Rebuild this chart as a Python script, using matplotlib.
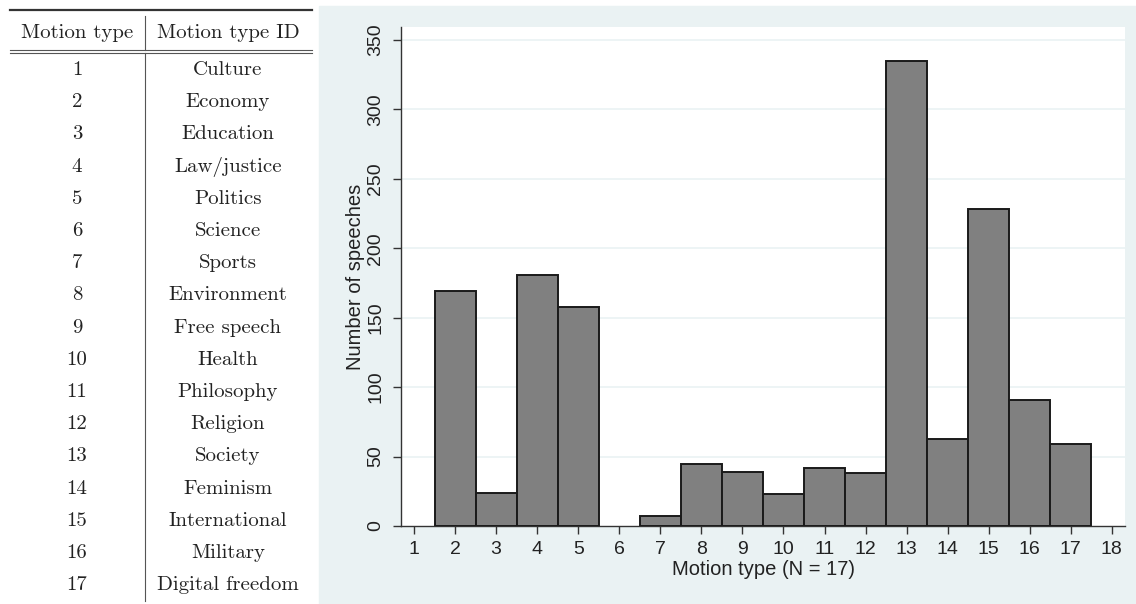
import matplotlib
matplotlib.use("Agg")
import matplotlib.pyplot as plt
from matplotlib.patches import Rectangle

# table contents
motion_ids = list(range(1, 18))
motion_names = [
    "Culture", "Economy", "Education", "Law/justice", "Politics",
    "Science", "Sports", "Environment", "Free speech", "Health",
    "Philosophy", "Religion", "Society", "Feminism", "International",
    "Military", "Digital freedom",
]

# bar chart: number of speeches per motion type
speeches = [0, 169, 24, 181, 158, 0, 7, 45, 39, 23, 42, 38, 335, 63, 228, 91, 59]
y_ticks = [0, 50, 100, 150, 200, 250, 300, 350]
x_ticks = list(range(1, 19))

W, H = 1136, 604
PANEL = "#EAF2F3"
TXT = "#222222"

fig = plt.figure(figsize=(W / 100, H / 100), dpi=100)

# pixel-coordinate overlay for the table and the grey panel
bg = fig.add_axes([0, 0, 1, 1])
bg.set_xlim(0, W)
bg.set_ylim(H, 0)
bg.axis("off")
bg.add_patch(Rectangle((319, 6), W - 319, H - 6, color=PANEL, zorder=0))

tab_font = dict(family="cmr10", size=15, color=TXT, ha="center", va="center")
col1, col2 = 77, 228
bg.text(col1, 33, "Motion type", **tab_font)
bg.text(col2, 33, "Motion type ID", **tab_font)
row0, row_step = 70, 32.2
for i, (mid, name) in enumerate(zip(motion_ids, motion_names)):
    y = row0 + i * row_step
    bg.text(col1, y, str(mid), **tab_font)
    bg.text(col2, y, name, **tab_font)

bg.plot([10, 312], [10, 10], color="#333333", lw=1.6)
bg.plot([10, 312], [49.5, 49.5], color="#555555", lw=0.8)
bg.plot([10, 312], [52.8, 52.8], color="#555555", lw=0.8)
bg.plot([145, 145], [16, 49.5], color="#555555", lw=0.8)
bg.plot([145, 145], [52.8, 601], color="#555555", lw=0.8)

# the chart itself
ax = fig.add_axes([401 / W, (H - 526) / H, (1125 - 401) / W, (526 - 27) / H])
ax.set_facecolor("white")
bars = ax.bar(motion_ids, speeches, width=1.0, color="#808080",
              edgecolor="#1a1a1a", linewidth=1.4, zorder=3)
for b, v in zip(bars, speeches):
    if v == 0:
        b.set_linewidth(0)

ax.set_xlim(0.683, 18.32)
ax.set_ylim(0, 359.4)
ax.set_xticks(x_ticks)
ax.set_yticks(y_ticks)
for v in y_ticks[1:]:
    ax.axhline(v, color=PANEL, lw=1.2, zorder=1)

for side in ("top", "right"):
    ax.spines[side].set_visible(False)
for side in ("left", "bottom"):
    ax.spines[side].set_color("#333333")
    ax.spines[side].set_linewidth(1.0)

ax.tick_params(axis="both", direction="out", length=6, width=1.0,
               color="#333333", labelcolor=TXT, labelsize=14)
ax.tick_params(axis="x", pad=5)
ax.tick_params(axis="y", pad=6)
for lab in ax.get_yticklabels():
    lab.set_rotation(90)
    lab.set_va("center")
for lab in ax.get_yticklabels() + ax.get_xticklabels():
    lab.set_family("Liberation Sans")

ax.set_xlabel("Motion type (N = 17)", family="Liberation Sans",
              fontsize=14.5, color=TXT, labelpad=1.5)
ax.set_ylabel("Number of speeches", family="Liberation Sans",
              fontsize=14.5, color=TXT, labelpad=2)

fig.savefig("out.png", dpi=100)
